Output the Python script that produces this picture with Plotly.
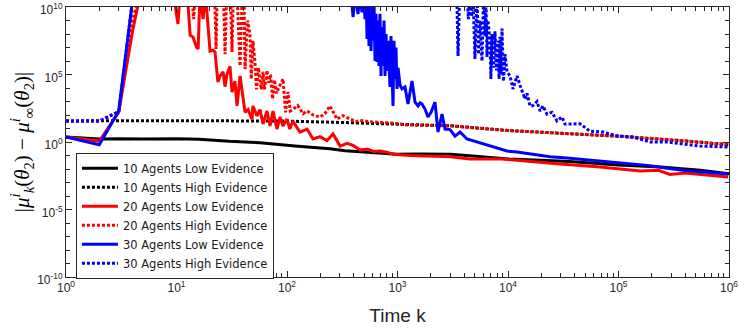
import numpy as np
import plotly.graph_objects as go

# time steps k and log10 of |mu_k - mu_inf|
k_10_low = [1, 2, 3, 5, 10, 16, 30, 57, 118, 245, 335, 500, 1000, 1600, 3000, 4500,
            1e4, 2e4, 3.6e4, 1e5, 2.4e5, 5.5e5, 1e6]
e_10_low = [0.37, 0.22, 0.25, 0.22, 0.25, 0.2, 0.05, -0.05, -0.3, -0.5, -0.65,
            -0.75, -0.90, -0.88, -0.90, -1.02, -1.26, -1.35, -1.45, -1.70, -1.85, -2.10, -2.35]

k_10_high = [1, 2, 10, 100, 300, 1000, 3000, 1e4, 3.6e4, 1e5, 3.6e5, 1e6]
e_10_high = [1.55, 1.58, 1.58, 1.55, 1.45, 1.33, 1.2, 0.85, 0.62, 0.43, 0.1, -0.2]

k_20_low = [1, 2, 3, 4, 5, 9, 10.3, 10.8, 12.5, 13.3, 14.1, 15.2, 15.7, 16.3, 17.4, 18.3,
            20.1, 21.4, 22.3, 23.7, 24.8, 26.4, 27.5, 28.6, 30.5, 31.8, 33.8, 35.3, 37.6,
            40, 41.7, 44.4, 48.2, 49.2, 53.5, 57, 60.7, 65.9, 70.2, 74.7, 81.2, 86.4, 92,
            100, 106, 113, 131, 152, 172, 199, 230, 261, 302, 350, 396, 460, 530, 610, 695,
            800, 911, 1300, 1600, 2200, 2990, 4530, 8470, 15800, 29600, 68000, 157000,
            230000, 292000, 400000, 547000, 980000]
e_20_low = [0.37, 0.07, 2.2, 8.2, 12, 12, 8.74, 11, 11, 7.9, 7.78, 7.0, 6.9, 11, 9.1, 11,
            6.74, 6.8, 6.67, 4.44, 4.9, 5.2, 4.1, 5.0, 5.6, 3.7, 4.5, 2.67, 4.9,
            3.19, 2.2, 2.4, 1.7, 2.67, 1.93, 2.4, 1.33, 2.3, 1.19, 2.3, 0.96, 1.85, 1.19,
            1.7, 0.96, 1.55, 0.74, 0.96, 0.22, 0.4, 0.1, 0.6, -0.3, -0.1, -0.25, -0.6, -0.52,
            -0.7, -0.67, -0.75, -0.9, -1.0, -1.0, -1.05, -1.1, -1.25, -1.25, -1.45, -1.63,
            -1.85, -2.15, -2.1, -2.4, -2.3, -2.4, -2.6]

k_20_high = [1, 2, 3, 4, 5, 13.5, 14.3, 15, 22, 22.8, 23.5, 26.4, 27.5, 28.6, 30.5, 31.8,
             32.8, 35.3, 37.6, 39, 40.8, 41.7, 44, 46.2, 47.5, 49.2, 51.3, 53, 55, 58.5,
             60.7, 62.5, 66, 68, 71, 74, 77, 80, 84, 92, 97, 102, 107, 113, 125, 140, 152,
             172, 199, 220, 245, 283, 320, 372, 420, 458, 560, 695, 911, 1220, 3000, 1e4,
             3.6e4, 1e5, 3.6e5, 1e6]
e_20_high = [1.55, 1.55, 2.25, 9.0, 12, 12, 9.1, 12, 12, 6.9, 12, 12, 6.5, 12, 12, 6.67,
             12, 11, 5.63, 10, 11, 5.4, 9, 8, 4.67, 7.5, 5.9, 3.9, 5.5, 3.9, 5.2, 3.9, 5.3,
             4.4, 5.0, 3.19, 4.6, 3.6, 4.0, 4.67, 2.2, 3.7, 2.3, 2.4, 2.7, 2.1, 2.3, 2.0,
             1.85, 2.1, 2.67, 1.7, 1.95, 1.7, 1.5, 1.6, 1.5, 1.45, 1.4, 1.26, 1.2, 0.85,
             0.62, 0.43, 0.12, -0.2]

k_30_low = [1, 2, 3, 4, 5, 300, 380, 396, 415, 439, 458, 477, 495, 508, 520, 530, 541, 552,
            564, 576, 588, 600, 613, 626, 639, 652, 666, 680, 694, 709, 724, 739, 755, 771,
            788, 804, 820, 838, 855, 873, 890, 911, 930, 950, 969, 990, 1011, 1055, 1099,
            1169, 1245, 1353, 1440, 1534, 1600, 1667, 1774, 1889, 2011, 2183, 2326, 2528,
            2690, 2988, 3313, 3680, 4256, 5239, 5936, 7311, 9790, 12060, 16830, 23990,
            34190, 47710, 96900, 192700, 274700, 383700, 547000, 980000]
e_30_low = [0.37, -0.2, 2.3, 10.5, 13, 13, 11, 9.26, 11, 9.48, 11, 9.6, 11, 9.1, 11, 7.63,
            10.5, 7.11, 10.5, 6.74, 10, 7.5, 10.5, 6.0, 9.5, 5.93, 9, 5.63, 9.5, 4.89, 8.5,
            5.63, 9, 4.89, 8, 5.26, 7.5, 5.0, 4.07, 7.85, 5.5, 2.67, 7.5, 4.67, 7.0, 3.93,
            5.5, 4.2, 3.93, 4.07, 2.81, 4.52, 2.96, 2.67, 2.9, 2.81, 2.44, 1.85, 2.2, 2.96,
            0.74, 2.07, 0.96, 0.92, 0.44, 0.74, 0.22, 0.0, -0.15, -0.37, -0.67, -0.74,
            -0.9, -1.1, -1.18, -1.3, -1.5, -1.75, -1.95, -2.1, -2.2, -2.37]

k_30_high = [1, 2, 3, 4, 5, 3400, 3530, 3650, 4256, 4380, 4530, 4680, 4823, 5020, 5239,
             5400, 5584, 5821, 6000, 6196, 6320, 6459, 6593, 6873, 7000, 7166, 7400, 7626,
             7870, 8120, 8300, 8465, 8650, 8826, 9100, 9397, 9797, 10430, 11100, 12060,
             12850, 14250, 14860, 15820, 16840, 18290, 19480, 20730, 22540, 25010, 27750,
             30800, 32790, 36390, 44860, 55230, 72420, 96900, 135200, 192700, 274700,
             383700, 547000, 980000]
e_30_high = [1.55, 1.55, 2.25, 10.5, 13, 13, 6.37, 11, 11, 9.1, 11, 9.3, 11, 6.15, 11,
             6.5, 9, 6.0, 10.5, 7.85, 10.5, 6.3, 9, 7.4, 4.67, 8, 5.5, 8.2, 5.3, 7.5, 4.67,
             7.8, 5.0, 8.4, 4.5, 6.5, 5.2, 4.9, 3.93, 4.9, 4.2, 3.19, 3.6, 2.67, 2.7, 3.0,
             2.3, 2.67, 2.07, 2.2, 1.56, 1.85, 1.33, 1.33, 1.35, 0.8, 0.74, 0.45, 0.37,
             0.0, 0.0, -0.15, -0.3, -0.37]

x_decades = [0, 1, 2, 3, 4, 5, 6]
y_decades = [-10, -5, 0, 5, 10]

series = [
    ('10 Agents Low Evidence', k_10_low, e_10_low, 'black', 'solid'),
    ('10 Agents High Evidence', k_10_high, e_10_high, 'black', '3px,2px'),
    ('20 Agents Low Evidence', k_20_low, e_20_low, '#ff0000', 'solid'),
    ('20 Agents High Evidence', k_20_high, e_20_high, '#ff0000', '3px,2px'),
    ('30 Agents Low Evidence', k_30_low, e_30_low, '#0000ff', 'solid'),
    ('30 Agents High Evidence', k_30_high, e_30_high, '#0000ff', '3px,2px'),
]

fig = go.Figure()
for name, k, e, col, dash in series:
    fig.add_trace(go.Scatter(x=k, y=10 ** np.array(e), mode='lines', name=name,
                             line=dict(color=col, width=3, dash=dash)))

axcol = '#262626'
axis_common = dict(type='log', showline=True, linecolor=axcol, linewidth=1, mirror='allticks',
                   ticks='inside', ticklen=6, tickcolor=axcol, showgrid=False, zeroline=False,
                   automargin=False, tickmode='array', ticklabeloverflow='allow',
                   tickfont=dict(family='Liberation Sans', size=12, color=axcol))

x_minor = [m * 10 ** d for d in range(6) for m in range(2, 10)]
y_minor = [10.0 ** d for d in range(-10, 11)]

fig.update_xaxes(range=[0, 6],
                 tickvals=[10 ** d for d in x_decades],
                 ticktext=['10<sup>%d</sup>' % d for d in x_decades],
                 minor=dict(tickmode='array', tickvals=x_minor, ticks='inside', ticklen=4, tickcolor=axcol),
                 title=dict(text='Time k', font=dict(family='Liberation Sans', size=19, color=axcol),
                            standoff=14),
                 **axis_common)
fig.update_yaxes(range=[-10, 10],
                 tickvals=[10.0 ** d for d in y_decades],
                 ticktext=['10<sup>%d</sup>' % d for d in y_decades],
                 ticklabelshift=3,
                 minor=dict(tickmode='array', tickvals=y_minor, ticks='inside', ticklen=4, tickcolor=axcol),
                 title=dict(text='|<i>μ</i><sup><i>i</i></sup><sub><i>k</i></sub>(<i>θ</i><sub>2</sub>) − '
                                 '<i>μ</i><sup><i>i</i></sup><sub>∞</sub>(<i>θ</i><sub>2</sub>)|',
                            font=dict(family='Liberation Serif', size=21, color='black'), standoff=1),
                 **axis_common)

fig.update_layout(
    width=747, height=329, autosize=False,
    margin=dict(l=66, r=18, t=7, b=52),
    plot_bgcolor='white', paper_bgcolor='white',
    legend=dict(x=0.015, y=0.46, xanchor='left', yanchor='top',
                bgcolor='white', bordercolor=axcol, borderwidth=1, itemwidth=36,
                font=dict(family='DejaVu Sans', size=11.5, color='#1a1a1a'),
                tracegroupgap=0),
    showlegend=True,
)

# page body has an 8px default margin; drop it so the figure sits at the window origin
fig.write_html("out.html", config={'displayModeBar': False},
               post_script="document.body.style.margin='0';")
